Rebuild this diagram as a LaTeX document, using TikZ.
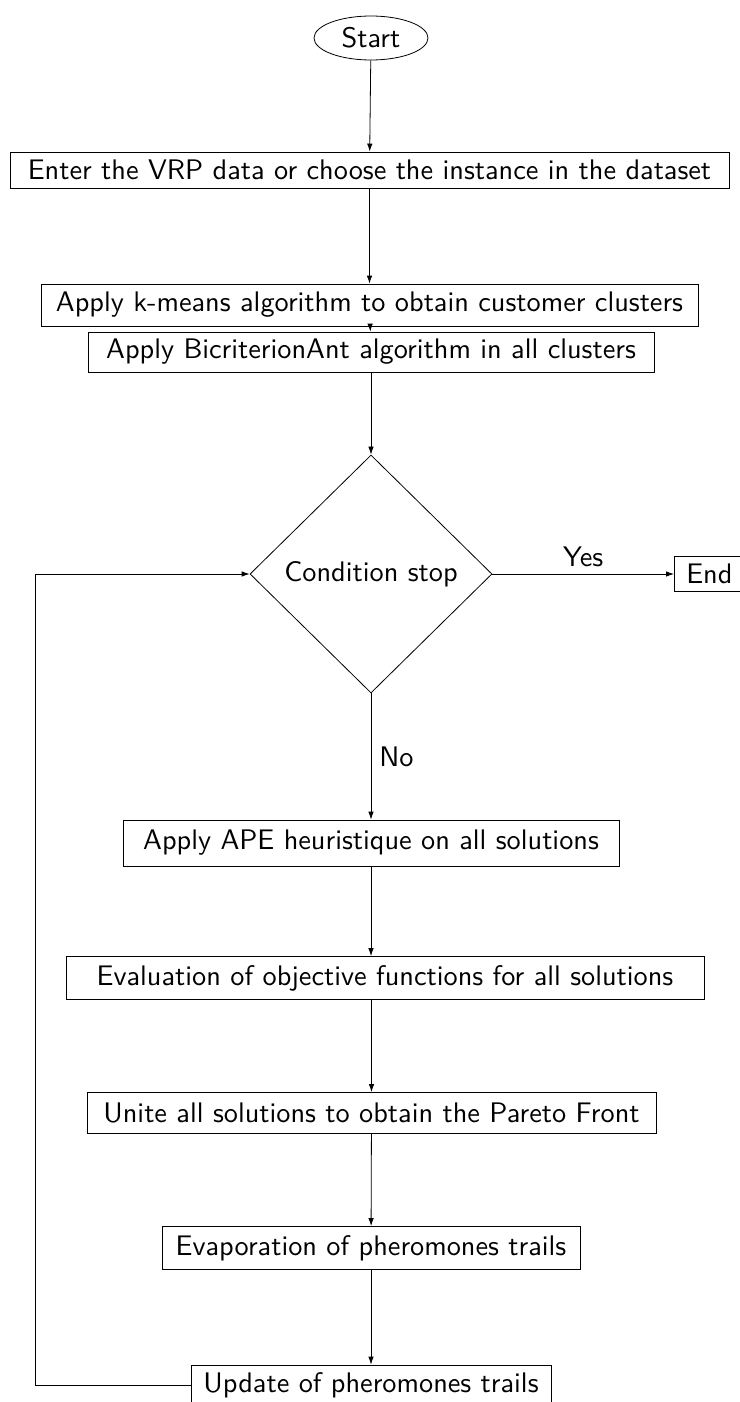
\documentclass[tikz,border=0pt]{standalone}
\usepackage{graphicx}
\usetikzlibrary{shapes.geometric,arrows.meta}
\newcommand{\T}[1]{\scalebox{2.83}{\fontsize{10}{12}\sffamily\selectfont #1}}
\begin{document}
\begin{tikzpicture}[x=1pt,y=-1pt,
  bx/.style={draw,line width=0.8pt,inner sep=0pt},
  arr/.style={draw,line width=0.8pt,-{Latex[length=8pt,width=5.5pt]}}]
\useasboundingbox (0,0) rectangle (739,1402);
\node[bx,ellipse,minimum width=114pt,minimum height=44pt] (start) at (371,38) {\T{Start}};
\node[bx,minimum width=719pt,minimum height=36pt] (b1) at (369.5,170) {\T{Enter the VRP data or choose the instance in the dataset}};
\node[bx,minimum width=657pt,minimum height=42pt] (b2) at (369.5,305) {\T{Apply k-means algorithm to obtain customer clusters}};
\node[bx,minimum width=566pt,minimum height=40pt] (b3) at (371,352) {\T{Apply BicriterionAnt algorithm in all clusters}};
\node[bx,diamond,minimum width=242pt,minimum height=238pt,aspect=1] (cond) at (371,574) {\T{Condition stop}};
\node[bx,minimum width=70pt,minimum height=35pt,anchor=west] (end) at (674,574) {\T{End}};
\node[bx,minimum width=496pt,minimum height=46pt] (b4) at (371,843) {\T{Apply APE heuristique on all solutions}};
\node[bx,minimum width=638pt,minimum height=43pt] (b5) at (385,978) {\T{Evaluation of objective functions for all solutions}};
\node[bx,minimum width=569pt,minimum height=41pt] (b6) at (371.5,1113) {\T{Unite all solutions to obtain the Pareto Front}};
\node[bx,minimum width=418pt,minimum height=43pt] (b7) at (371,1248) {\T{Evaporation of pheromones trails}};
\node[bx,minimum width=360pt,minimum height=40pt] (b8) at (371,1385) {\T{Update of pheromones trails}};
\coordinate (lb) at (35,1385);
\coordinate (lt) at (35,574);
\draw[arr] (start) -- (b1);
\draw[arr] (b1) -- (b2);
\draw[arr] (b2) -- (b3);
\draw[arr] (b3) -- (cond);
\draw[arr] (cond) -- node[above=5pt,pos=0.5,inner sep=2pt] {\T{Yes}} (end);
\draw[arr] (cond.south) -- node[pos=0.5,right=6pt,inner sep=2pt] {\T{No}} (b4);
\draw[arr] (b4) -- (b5.north -| b4);
\draw[arr] (b5.south -| b6) -- (b6);
\draw[arr] (b6) -- (b7);
\draw[arr] (b7) -- (b8);
\draw[arr] (b8.west) -- (lb) -- (lt) -- (cond.west);
\end{tikzpicture}
\end{document}
